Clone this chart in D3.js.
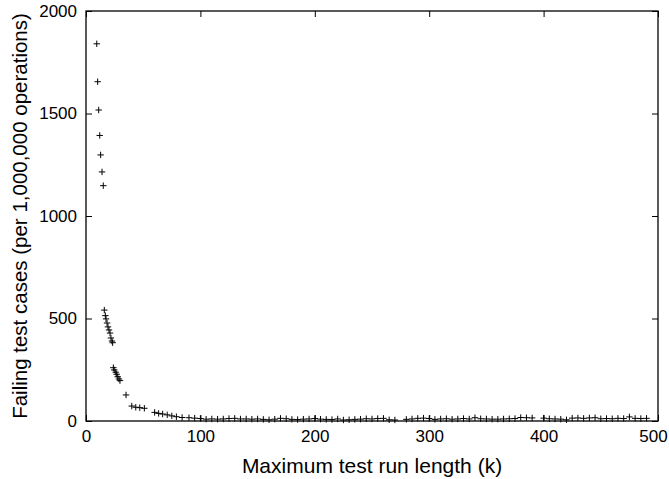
<!DOCTYPE html>
<html>
<head>
<meta charset="utf-8">
<script src="https://cdn.jsdelivr.net/npm/d3@7"></script>
<style>
body { margin: 0; background: #fff; }
svg { display: block; }
text { font-family: "Liberation Sans", Arial, Helvetica, sans-serif; fill: #000; }
</style>
</head>
<body>
<svg id="chart" width="669" height="479"></svg>
<script>
// Data
const runLength = [
  9.4, 10.2, 11.1, 12.0, 12.8, 14.0, 15.1,
  16.0, 16.9, 17.5, 18.4, 19.2, 20.1, 21.0, 21.8, 22.7, 23.3,
  23.9, 24.7, 26.0, 26.8, 27.7, 28.8, 29.7,
  35, 40, 43.5, 47, 51, 60, 63.5, 67, 71, 75, 79, 84,
  90, 95, 100, 105, 110, 115, 120, 125, 130, 135, 140, 145, 150, 155, 160, 165,
  170, 175, 180, 185, 190, 195, 200, 205, 210, 215, 220, 225, 230, 235, 240, 245,
  250, 255, 260, 265, 270, 280, 285, 290, 295, 300, 305, 310, 315, 320, 325, 330,
  335, 340, 345, 350, 355, 360, 365, 370, 375, 380, 385, 390, 400, 405, 410, 415,
  420, 425, 430, 435, 440, 445, 450, 455, 460, 465, 470, 475, 480, 485, 490
];
const failingCases = [
  1840, 1655, 1517, 1393, 1298, 1215, 1148,
  541, 514, 498, 478, 459, 444, 429, 405, 390, 382,
  260, 249, 238, 228, 216, 205, 197,
  127, 73, 67, 65, 62, 42, 37, 34, 30, 25, 21, 17,
  16, 14, 12, 9, 10, 9, 10, 12, 13, 10, 10, 9, 10, 8, 6, 9,
  13, 11, 8, 7, 9, 10, 12, 9, 8, 7, 10, 5, 6, 8, 9, 11,
  10, 12, 13, 6, 5, 8, 10, 13, 14, 12, 8, 10, 11, 9, 10, 12,
  10, 16, 11, 10, 9, 9, 10, 11, 12, 17, 16, 15, 14, 11, 10, 9,
  6, 14, 15, 13, 15, 16, 11, 12, 11, 13, 12, 20, 13, 12, 13
];
const xTicks = [0, 100, 200, 300, 400, 500];
const yTicks = [0, 500, 1000, 1500, 2000];
const xTitle = "Maximum test run length (k)";
const yTitle = "Failing test cases (per 1,000,000 operations)";

const svg = d3.select("#chart");
const m = { left: 86, top: 11, right: 11, bottom: 58 };
const W = 669, H = 479;
const iw = W - m.left - m.right, ih = H - m.top - m.bottom;

const x = d3.scaleLinear().domain([0, 500]).range([m.left, m.left + iw]);
const y = d3.scaleLinear().domain([0, 2000]).range([m.top + ih, m.top]);

const fs = 17;
const tickLen = 6;

// bottom axis
const gx = svg.append("g").attr("transform", `translate(0,${m.top + ih})`)
  .call(d3.axisBottom(x).tickValues(xTicks).tickSize(-tickLen).tickPadding(9).tickFormat(d3.format("d")));
// top mirror
const gxt = svg.append("g").attr("transform", `translate(0,${m.top})`)
  .call(d3.axisTop(x).tickValues(xTicks).tickSize(-tickLen).tickFormat(""));
// left axis
const gy = svg.append("g").attr("transform", `translate(${m.left},0)`)
  .call(d3.axisLeft(y).tickValues(yTicks).tickSize(-tickLen).tickPadding(9).tickFormat(d3.format("d")));
// right mirror
const gyr = svg.append("g").attr("transform", `translate(${m.left + iw},0)`)
  .call(d3.axisRight(y).tickValues(yTicks).tickSize(-tickLen).tickFormat(""));

[gx, gxt, gy, gyr].forEach(g => {
  g.select(".domain").remove();
  g.selectAll(".tick line").attr("stroke", "#000").attr("stroke-width", 1);
  g.selectAll("text").style("font-size", fs + "px").attr("fill", "#222");
});
// keep the last x label inside the page edge
gx.selectAll(".tick text").filter(d => d === 500).attr("dx", "-5");

// frame
svg.append("rect")
  .attr("x", m.left).attr("y", m.top).attr("width", iw).attr("height", ih)
  .attr("fill", "none").attr("stroke", "#000").attr("stroke-width", 1.3);

// points as "+"
const data = runLength.map((v, i) => ({ x: v, y: failingCases[i] }));
const s = 3.2;
svg.append("g").selectAll("path").data(data).join("path")
  .attr("d", d => {
    const cx = x(d.x), cy = y(d.y);
    return `M${cx - s},${cy}H${cx + s}M${cx},${cy - s}V${cy + s}`;
  })
  .attr("stroke", "#000").attr("stroke-width", 1).attr("fill", "none");

// titles
svg.append("text")
  .attr("x", m.left + iw / 2).attr("y", 473)
  .attr("text-anchor", "middle").style("font-size", "21px").attr("fill", "#222")
  .text(xTitle);
svg.append("text")
  .attr("transform", `translate(27,${m.top + ih / 2}) rotate(-90)`)
  .attr("text-anchor", "middle").style("font-size", "20.5px").attr("fill", "#222")
  .text(yTitle);
</script>
</body>
</html>
